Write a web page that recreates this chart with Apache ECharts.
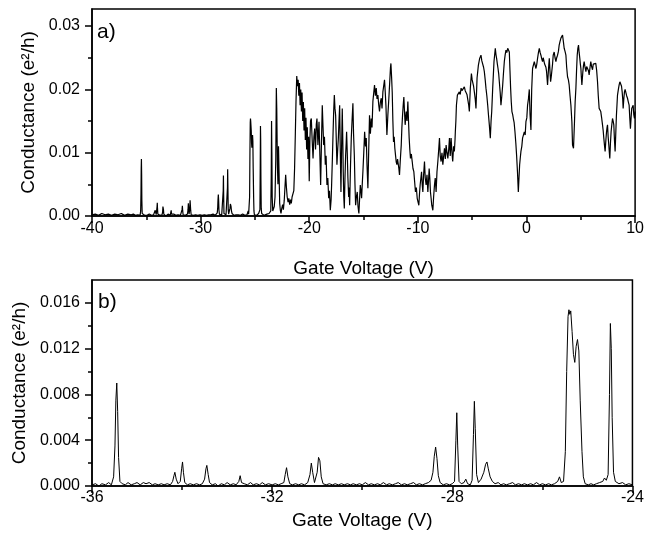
<!DOCTYPE html>
<html>
<head>
    <meta charset="utf-8">
    <title>Conductance vs Gate Voltage</title>
    <script src="https://cdn.jsdelivr.net/npm/echarts@6/dist/echarts.min.js"></script>
    <style>
        html, body { margin: 0; padding: 0; background: #fff; }
    </style>
</head>
<body>
    <div id="main" style="width: 647px;height:538px;"></div>
    <script type="text/javascript">
// trace below -36 V (only shown in panel a)
var traceLow = [[-40,0.0002],[-39.7,0.0003],[-39.4,0.0001],[-39.1,0.0004],[-38.8,0.0002],[-38.5,0.0003],[-38.2,0.0001],[-37.9,0.0003],[-37.6,0.0002],[-37.3,0.0004],[-37.0,0.0001],[-36.7,0.0003],[-36.4,0.0002],[-36.2,0.0003]];

// -36 V .. -24 V, shown in both panels (panel b is the close-up)
var traceZoom = [[-36.0,0.0001],[-35.92,0.0002],[-35.85,0.0000],[-35.78,0.0002],[-35.7,0.0001],[-35.63,0.0003],[-35.57,0.0001],[-35.52,0.0008],[-35.49,0.0035],[-35.47,0.0075],[-35.45,0.0090],[-35.43,0.0065],[-35.41,0.0025],[-35.38,0.0004],[-35.33,0.0002],[-35.26,0.0001],[-35.2,0.0003],[-35.13,0.0001],[-35.06,0.0002],[-35.0,0.0003],[-34.93,0.0001],[-34.86,0.0003],[-34.8,0.0002],[-34.73,0.0003],[-34.66,0.0001],[-34.6,0.0002],[-34.53,0.0001],[-34.46,0.0002],[-34.4,0.0001],[-34.33,0.0002],[-34.26,0.0001],[-34.21,0.0004],[-34.18,0.0009],[-34.16,0.0012],[-34.13,0.0006],[-34.09,0.0002],[-34.04,0.0004],[-34.01,0.0015],[-33.99,0.0021],[-33.97,0.0012],[-33.94,0.0003],[-33.88,0.0001],[-33.82,0.0002],[-33.75,0.0001],[-33.68,0.0002],[-33.61,0.0001],[-33.55,0.0002],[-33.5,0.0006],[-33.47,0.0015],[-33.45,0.0018],[-33.42,0.0010],[-33.39,0.0003],[-33.33,0.0001],[-33.26,0.0002],[-33.2,0.0000],[-33.13,0.0002],[-33.06,0.0001],[-33.0,0.0003],[-32.93,0.0001],[-32.86,0.0002],[-32.8,0.0001],[-32.74,0.0004],[-32.71,0.0009],[-32.68,0.0003],[-32.62,0.0002],[-32.55,0.0001],[-32.48,0.0003],[-32.42,0.0001],[-32.35,0.0002],[-32.28,0.0001],[-32.22,0.0003],[-32.15,0.0001],[-32.08,0.0002],[-32.0,0.0001],[-31.93,0.0002],[-31.86,0.0001],[-31.8,0.0002],[-31.74,0.0003],[-31.71,0.0010],[-31.68,0.0016],[-31.65,0.0008],[-31.61,0.0002],[-31.55,0.0001],[-31.48,0.0002],[-31.41,0.0001],[-31.35,0.0002],[-31.28,0.0001],[-31.21,0.0003],[-31.16,0.0010],[-31.13,0.0020],[-31.1,0.0012],[-31.06,0.0003],[-31.0,0.0012],[-30.97,0.0025],[-30.94,0.0022],[-30.91,0.0008],[-30.87,0.0002],[-30.8,0.0001],[-30.73,0.0002],[-30.66,0.0001],[-30.6,0.0002],[-30.53,0.0001],[-30.46,0.0002],[-30.4,0.0001],[-30.33,0.0002],[-30.26,0.0001],[-30.2,0.0002],[-30.13,0.0001],[-30.06,0.0002],[-30.0,0.0001],[-29.93,0.0003],[-29.86,0.0001],[-29.8,0.0002],[-29.73,0.0001],[-29.66,0.0002],[-29.6,0.0001],[-29.53,0.0003],[-29.46,0.0001],[-29.4,0.0002],[-29.33,0.0001],[-29.26,0.0002],[-29.2,0.0003],[-29.13,0.0001],[-29.06,0.0002],[-29.0,0.0001],[-28.93,0.0002],[-28.86,0.0003],[-28.8,0.0001],[-28.73,0.0002],[-28.66,0.0001],[-28.6,0.0002],[-28.53,0.0003],[-28.47,0.0005],[-28.43,0.0012],[-28.4,0.0026],[-28.37,0.0034],[-28.34,0.0024],[-28.31,0.0009],[-28.27,0.0003],[-28.2,0.0001],[-28.13,0.0002],[-28.06,0.0001],[-28.0,0.0002],[-27.95,0.0004],[-27.92,0.0040],[-27.9,0.0064],[-27.88,0.0035],[-27.85,0.0004],[-27.8,0.0002],[-27.74,0.0003],[-27.7,0.0006],[-27.66,0.0002],[-27.6,0.0001],[-27.56,0.0005],[-27.53,0.0045],[-27.51,0.0074],[-27.49,0.0050],[-27.46,0.0010],[-27.42,0.0003],[-27.36,0.0006],[-27.3,0.0012],[-27.26,0.0019],[-27.23,0.0021],[-27.2,0.0015],[-27.16,0.0008],[-27.11,0.0004],[-27.05,0.0002],[-26.98,0.0003],[-26.92,0.0001],[-26.86,0.0002],[-26.8,0.0001],[-26.73,0.0002],[-26.66,0.0003],[-26.6,0.0001],[-26.53,0.0002],[-26.46,0.0001],[-26.4,0.0002],[-26.33,0.0001],[-26.26,0.0002],[-26.2,0.0001],[-26.13,0.0003],[-26.06,0.0001],[-26.0,0.0002],[-25.93,0.0001],[-25.86,0.0002],[-25.8,0.0001],[-25.73,0.0002],[-25.66,0.0004],[-25.62,0.0008],[-25.58,0.0003],[-25.53,0.0004],[-25.49,0.0030],[-25.46,0.0100],[-25.43,0.0148],[-25.41,0.0154],[-25.39,0.0150],[-25.37,0.0153],[-25.34,0.0135],[-25.31,0.0115],[-25.28,0.0108],[-25.25,0.0122],[-25.22,0.0128],[-25.19,0.0118],[-25.16,0.0075],[-25.12,0.0030],[-25.09,0.0008],[-25.05,0.0002],[-24.98,0.0001],[-24.92,0.0002],[-24.86,0.0001],[-24.8,0.0002],[-24.73,0.0003],[-24.66,0.0004],[-24.62,0.0007],[-24.58,0.0005],[-24.54,0.0010],[-24.51,0.0080],[-24.49,0.0142],[-24.47,0.0120],[-24.45,0.0060],[-24.42,0.0012],[-24.38,0.0004],[-24.3,0.0002],[-24.22,0.0003],[-24.15,0.0001],[-24.08,0.0002],[-24.0,0.0001]];

// above -24 V (only shown in panel a)
var traceHigh = [[-23.9,0.0003],[-23.8,0.0002],[-23.7,0.0004],[-23.6,0.0003],[-23.54,0.0008],[-23.5,0.0060],[-23.47,0.0150],[-23.44,0.0100],[-23.41,0.0030],[-23.36,0.0008],[-23.3,0.0010],[-23.22,0.0015],[-23.15,0.0030],[-23.08,0.0090],[-23.03,0.0202],[-22.99,0.0170],[-22.93,0.0080],[-22.88,0.0050],[-22.83,0.0110],[-22.78,0.0070],[-22.72,0.0020],[-22.66,0.0009],[-22.6,0.0004],[-22.53,0.0012],[-22.45,0.0018],[-22.38,0.0010],[-22.3,0.0025],[-22.22,0.0050],[-22.17,0.0065],[-22.1,0.0045],[-22.03,0.0030],[-21.95,0.0022],[-21.88,0.0028],[-21.8,0.0018],[-21.72,0.0026],[-21.65,0.0020],[-21.58,0.0030],[-21.5,0.0028],[-21.42,0.0040],[-21.35,0.0075],[-21.28,0.0130],[-21.22,0.0180],[-21.15,0.0221],
[-21.08,0.0205],[-21.02,0.0215],[-20.96,0.0190],[-20.9,0.0210],[-20.84,0.0175],[-20.78,0.0200],[-20.72,0.0165],[-20.66,0.0195],[-20.6,0.0150],[-20.54,0.0180],[-20.48,0.0135],[-20.42,0.0170],[-20.36,0.0120],[-20.3,0.0155],[-20.24,0.0105],[-20.18,0.0140],[-20.12,0.0090],[-20.06,0.0125],[-20.0,0.0055],[-19.94,0.0120],[-19.88,0.0150],
[-19.81,0.0154],[-19.73,0.0120],[-19.65,0.0091],[-19.57,0.0125],[-19.5,0.0138],[-19.42,0.0105],[-19.35,0.0145],[-19.29,0.0154],[-19.2,0.0112],[-19.1,0.0149],[-19.02,0.0095],[-18.95,0.0049],[-18.87,0.0120],[-18.8,0.0175],[-18.73,0.0140],[-18.67,0.0112],[-18.6,0.0125],[-18.52,0.0081],[-18.45,0.0095],[-18.37,0.0049],[-18.29,0.0060],[-18.21,0.0028],[-18.14,0.0040],[-18.06,0.0009],[-17.99,0.0025],[-17.94,0.0049],[-17.87,0.0090],[-17.82,0.0123],[-17.75,0.0165],[-17.69,0.0191],[-17.63,0.0170],[-17.57,0.0159],[-17.51,0.0120],[-17.45,0.0081],[-17.38,0.0105],[-17.32,0.0123],[-17.26,0.0150],[-17.2,0.0175],[-17.14,0.0100],[-17.08,0.0038],[-17.02,0.0110],[-16.96,0.0170],[-16.91,0.0120],[-16.87,0.0070],[-16.82,0.0030],[-16.77,0.0012],[-16.71,0.0060],[-16.65,0.0096],[-16.6,0.0115],[-16.56,0.0133],[-16.5,0.0100],[-16.44,0.0060],[-16.37,0.0030],[-16.33,0.0045],[-16.28,0.0017],[-16.2,0.0080],[-16.13,0.0123],[-16.06,0.0150],[-15.98,0.0178],[-15.92,0.0130],[-15.85,0.0096],[-15.79,0.0050],[-15.73,0.0017],[-15.66,0.0030],[-15.58,0.0038],[-15.51,0.0015],[-15.43,0.0004],[-15.37,0.0025],[-15.3,0.0049],[-15.24,0.0040],[-15.18,0.0028],[-15.12,0.0050],[-15.06,0.0070],[-14.98,0.0100],[-14.9,0.0133],[-14.82,0.0110],[-14.75,0.0123],[-14.68,0.0080],[-14.6,0.0044],[-14.53,0.0100],[-14.45,0.0159],[-14.37,0.0130],[-14.29,0.0154],[-14.22,0.0140],[-14.14,0.0181],[-14.06,0.0195],[-13.99,0.0207],[-13.91,0.0190],[-13.83,0.0202],[-13.76,0.0185],[-13.68,0.0191],[-13.6,0.0175],[-13.53,0.0165],[-13.45,0.0180],[-13.37,0.0186],[-13.3,0.0170],[-13.22,0.0196],[-13.15,0.0205],[-13.07,0.0215],[-13.0,0.0195],[-12.94,0.0175],[-12.85,0.0128],[-12.76,0.0160],[-12.67,0.0186],[-12.58,0.0215],[-12.52,0.0235],[-12.48,0.0241],[-12.42,0.0220],[-12.36,0.0196],[-12.3,0.0150],[-12.24,0.0117],[-12.18,0.0125],[-12.12,0.0107],[-12.05,0.0095],[-11.99,0.0085],[-11.93,0.0081],[-11.87,0.0090],[-11.81,0.0091],[-11.75,0.0075],[-11.69,0.0065],[-11.61,0.0090],[-11.53,0.0112],[-11.47,0.0140],[-11.41,0.0159],[-11.35,0.0175],[-11.29,0.0188],[-11.23,0.0165],[-11.17,0.0144],[-11.12,0.0155],[-11.07,0.0165],[-11.0,0.0150],[-10.92,0.0181],[-10.86,0.0150],[-10.8,0.0123],[-10.74,0.0105],[-10.68,0.0091],[-10.6,0.0098],[-10.52,0.0086],[-10.45,0.0075],[-10.37,0.0070],[-10.3,0.0055],[-10.22,0.0038],[-10.14,0.0045],[-10.06,0.0028],[-9.98,0.0022],[-9.91,0.0017],[-9.85,0.0035],[-9.79,0.0049],[-9.72,0.0060],[-9.66,0.0070],[-9.6,0.0050],[-9.54,0.0038],[-9.47,0.0065],[-9.39,0.0086],[-9.32,0.0060],[-9.24,0.0049],[-9.16,0.0065],[-9.08,0.0038],[-9.02,0.0055],[-8.96,0.0075],[-8.9,0.0060],[-8.84,0.0038],[-8.78,0.0028],[-8.72,0.0017],[-8.62,0.0009],[-8.55,0.0030],[-8.47,0.0049],[-8.4,0.0060],[-8.32,0.0038],[-8.24,0.0070],[-8.16,0.0086],[-8.08,0.0105],[-8.01,0.0123],[-7.94,0.0095],[-7.86,0.0086],[-7.78,0.0100],[-7.7,0.0081],[-7.62,0.0095],[-7.55,0.0107],[-7.47,0.0090],[-7.4,0.0112],[-7.32,0.0100],[-7.24,0.0091],[-7.16,0.0105],[-7.09,0.0123],[-7.02,0.0095],[-6.94,0.0123],[-6.86,0.0100],[-6.79,0.0086],[-6.71,0.0110],[-6.64,0.0102],[-6.58,0.0120],[-6.55,0.0133],[-6.5,0.0150],[-6.45,0.0175],[-6.36,0.0191],[-6.27,0.0190],[-6.18,0.0196],[-6.1,0.0192],[-6.02,0.0202],[-5.94,0.0198],[-5.87,0.0199],[-5.8,0.0196],[-5.72,0.0204],[-5.64,0.0198],[-5.56,0.0199],[-5.48,0.0192],[-5.41,0.0191],[-5.32,0.0175],[-5.26,0.0165],[-5.17,0.0202],[-5.07,0.0225],[-5.0,0.0215],[-4.95,0.0212],[-4.87,0.0205],[-4.8,0.0196],[-4.72,0.0185],[-4.65,0.0170],[-4.55,0.0218],[-4.43,0.0238],[-4.31,0.0249],[-4.19,0.0254],[-4.11,0.0245],[-4.03,0.0244],[-3.95,0.0235],[-3.88,0.0228],[-3.8,0.0215],[-3.73,0.0202],[-3.65,0.0190],[-3.57,0.0175],[-3.5,0.0160],[-3.42,0.0144],[-3.33,0.0123],[-3.26,0.0150],[-3.2,0.0165],[-3.11,0.0202],[-2.99,0.0244],[-2.87,0.0265],[-2.81,0.0255],[-2.75,0.0249],[-2.68,0.0240],[-2.62,0.0233],[-2.56,0.0225],[-2.5,0.0212],[-2.42,0.0195],[-2.35,0.0175],[-2.27,0.0190],[-2.19,0.0207],[-2.12,0.0225],[-2.04,0.0244],[-1.96,0.0255],[-1.89,0.0262],[-1.81,0.0258],[-1.73,0.0265],[-1.65,0.0262],[-1.58,0.0259],[-1.52,0.0230],[-1.46,0.0202],[-1.4,0.0180],[-1.34,0.0165],[-1.27,0.0160],[-1.21,0.0154],[-1.14,0.0148],[-1.06,0.0133],[-0.98,0.0115],[-0.91,0.0096],[-0.83,0.0070],[-0.75,0.0038],[-0.69,0.0060],[-0.63,0.0081],[-0.57,0.0092],[-0.51,0.0102],[-0.43,0.0110],[-0.36,0.0123],[-0.28,0.0125],[-0.2,0.0133],[-0.12,0.0128],[-0.05,0.0149],[0.03,0.0155],[0.1,0.0175],[0.18,0.0185],[0.26,0.0200],[0.33,0.0160],[0.41,0.0136],[0.48,0.0200],[0.56,0.0233],[0.64,0.0235],[0.72,0.0244],[0.8,0.0238],[0.87,0.0233],[0.95,0.0240],[1.02,0.0249],[1.1,0.0258],[1.18,0.0265],[1.26,0.0258],[1.33,0.0254],[1.41,0.0248],[1.48,0.0244],[1.54,0.0250],[1.6,0.0249],[1.67,0.0240],[1.73,0.0238],[1.79,0.0235],[1.85,0.0228],[1.94,0.0207],[2.03,0.0233],[2.1,0.0249],[2.16,0.0230],[2.22,0.0212],[2.28,0.0220],[2.34,0.0223],[2.4,0.0240],[2.46,0.0254],[2.55,0.0259],[2.63,0.0250],[2.71,0.0244],[2.78,0.0250],[2.86,0.0254],[2.94,0.0260],[3.01,0.0270],[3.09,0.0276],[3.17,0.0281],[3.25,0.0279],[3.32,0.0286],[3.4,0.0275],[3.47,0.0265],[3.55,0.0260],[3.63,0.0254],[3.7,0.0235],[3.78,0.0220],[3.86,0.0215],[3.93,0.0207],[4.01,0.0190],[4.09,0.0175],[4.18,0.0149],[4.24,0.0112],[4.33,0.0107],[4.42,0.0149],[4.48,0.0180],[4.55,0.0202],[4.61,0.0230],[4.67,0.0254],[4.73,0.0265],[4.79,0.0270],[4.85,0.0258],[4.91,0.0249],[4.96,0.0240],[5.01,0.0233],[5.05,0.0220],[5.1,0.0207],[5.19,0.0228],[5.25,0.0238],[5.31,0.0244],[5.39,0.0235],[5.47,0.0228],[5.54,0.0236],[5.62,0.0233],[5.7,0.0230],[5.77,0.0223],[5.85,0.0235],[5.92,0.0244],[6.0,0.0236],[6.08,0.0231],[6.15,0.0240],[6.23,0.0238],[6.31,0.0242],[6.38,0.0241],[6.46,0.0230],[6.54,0.0212],[6.61,0.0190],[6.69,0.0170],[6.76,0.0168],[6.84,0.0165],[6.92,0.0155],[7.0,0.0144],[7.06,0.0135],[7.12,0.0123],[7.18,0.0112],[7.24,0.0102],[7.31,0.0120],[7.37,0.0133],[7.42,0.0140],[7.46,0.0144],[7.52,0.0125],[7.58,0.0112],[7.63,0.0100],[7.67,0.0091],[7.73,0.0115],[7.79,0.0133],[7.86,0.0145],[7.92,0.0154],[7.98,0.0150],[8.04,0.0144],[8.1,0.0120],[8.16,0.0102],[8.22,0.0130],[8.28,0.0159],[8.33,0.0175],[8.38,0.0191],[8.46,0.0200],[8.53,0.0207],[8.6,0.0212],[8.68,0.0215],[8.75,0.0205],[8.81,0.0196],[8.86,0.0185],[8.9,0.0170],[8.96,0.0185],[9.02,0.0196],[9.08,0.0200],[9.14,0.0202],[9.22,0.0190],[9.3,0.0186],[9.38,0.0180],[9.45,0.0175],[9.51,0.0155],[9.57,0.0138],[9.63,0.0155],[9.69,0.0170],[9.76,0.0168],[9.82,0.0175],[9.88,0.0160],[9.94,0.0154],[10.0,0.0165]];

// tick positions
var yTicksA = [0, 0.01, 0.02, 0.03];
var yMinorA = [0.005, 0.015, 0.025];
var yTicksB = [0, 0.004, 0.008, 0.012, 0.016];
var yMinorB = [0.002, 0.006, 0.010, 0.014];

var myChart = echarts.init(document.getElementById('main'));

var font = "'Liberation Sans', Arial, sans-serif";
var black = '#000';

function xMajor(grid, min, max, step, gap, margin) {
    return {
        type: 'value', gridIndex: grid, min: min, max: max, interval: step, position: 'bottom',
        name: 'Gate Voltage (V)', nameLocation: 'middle', nameGap: gap,
        nameTextStyle: { fontSize: 19, color: black, fontFamily: font },
        axisLine: { onZero: false, lineStyle: { color: black, width: 1.5 } },
        axisTick: { length: 7, lineStyle: { color: black, width: 1.5 } },
        axisLabel: { fontSize: 16, color: black, fontFamily: font, margin: margin },
        splitLine: { show: false }
    };
}
function xMinor(grid, min, max, step) {
    return {
        type: 'value', gridIndex: grid, min: min, max: max, interval: step, position: 'bottom',
        axisLine: { show: false, onZero: false },
        axisTick: { length: 4, lineStyle: { color: black, width: 1.5 } },
        axisLabel: { show: false },
        splitLine: { show: false }
    };
}
function yMajor(grid, max, ticks, digits, gap) {
    return {
        type: 'value', gridIndex: grid, min: 0, max: max, position: 'left',
        name: 'Conductance (e²/h)', nameLocation: 'middle', nameGap: gap,
        nameTextStyle: { fontSize: 19, color: black, fontFamily: font },
        axisLine: { show: true, onZero: false, lineStyle: { color: black, width: 1.5 } },
        axisTick: { show: true, length: 7, customValues: ticks, lineStyle: { color: black, width: 1.5 } },
        axisLabel: {
            fontSize: 16, color: black, fontFamily: font, margin: 12, customValues: ticks,
            formatter: function (v) { return v.toFixed(digits); }
        },
        splitLine: { show: false }
    };
}
function yMinor(grid, max, ticks) {
    return {
        type: 'value', gridIndex: grid, min: 0, max: max, position: 'left',
        axisLine: { show: false, onZero: false },
        axisTick: { show: true, length: 4, customValues: ticks, lineStyle: { color: black, width: 1.5 } },
        axisLabel: { show: false },
        splitLine: { show: false }
    };
}

var option = {
    animation: false,
    backgroundColor: '#fff',
    textStyle: { fontFamily: font },
    title: [
        { text: 'a)', left: 92, top: 17, textStyle: { fontSize: 21, fontWeight: 'normal', color: black, fontFamily: font } },
        { text: 'b)', left: 93, top: 287, textStyle: { fontSize: 21, fontWeight: 'normal', color: black, fontFamily: font } }
    ],
    grid: [
        { left: 92, right: 11, top: 9, height: 207, show: true, borderColor: black, borderWidth: 1.5, backgroundColor: 'transparent' },
        { left: 92, right: 11, top: 280, height: 206, show: true, borderColor: black, borderWidth: 1.5, backgroundColor: 'transparent' }
    ],
    xAxis: [
        xMajor(0, -40, 10, 10, 43, 5),
        xMinor(0, -40, 10, 5),
        xMajor(1, -36, -24, 4, 25, 4),
        xMinor(1, -36, -24, 2)
    ],
    yAxis: [
        yMajor(0, 0.0327, yTicksA, 2, 50),
        yMinor(0, 0.0327, yMinorA),
        yMajor(1, 0.0180, yTicksB, 3, 61),
        yMinor(1, 0.0180, yMinorB)
    ],
    series: [
        {
            type: 'line', xAxisIndex: 0, yAxisIndex: 0,
            data: traceLow.concat(traceZoom, traceHigh),
            showSymbol: false, symbol: 'none',
            lineStyle: { color: black, width: 1.2 }
        },
        {
            type: 'line', xAxisIndex: 2, yAxisIndex: 2,
            data: traceZoom,
            showSymbol: false, symbol: 'none',
            lineStyle: { color: black, width: 1 }
        }
    ]
};

myChart.setOption(option);
    </script>
</body>
</html>
